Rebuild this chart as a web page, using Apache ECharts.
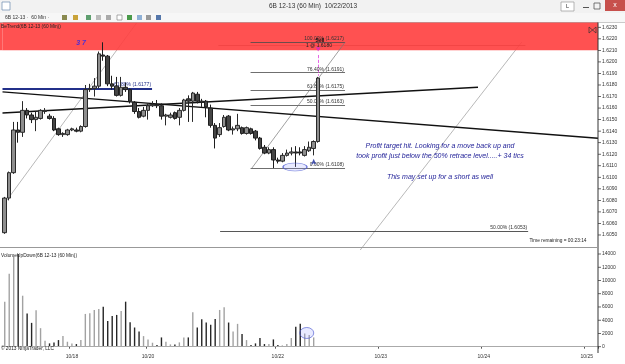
<!DOCTYPE html>
<html><head><meta charset="utf-8">
<script src="https://cdn.jsdelivr.net/npm/echarts@6/dist/echarts.min.js"></script>
<style>html,body{margin:0;padding:0;background:#fff}#c{width:625px;height:364px}</style>
</head><body><div id="c"></div>
<script>
// ---------- data ----------
const opens = [1.6052,1.6082,1.6104,1.6141,1.6139,1.6158,1.6154,1.6150,1.6151,1.6157,
1.6153,1.6151,1.6142,1.6137,1.6137,1.6141,1.6141,1.6140,1.6144,1.6176,
1.6177,1.6179,1.6206,1.6205,1.6181,1.6179,1.6171,1.6178,1.6176,1.6165,
1.6157,1.6153,1.6158,1.6162,1.6163,1.6162,1.6153,1.6152,1.6156,1.6152,
1.6158,1.6168,1.6166,1.6172,1.6166,1.6166,1.6160,1.6145,1.6137,1.6144,
1.6153,1.6141,1.6142,1.6143,1.6138,1.6142,1.6140,1.6134,1.6126,1.6121,
1.6124,1.6115,1.6114,1.6119,1.6121,1.6122,1.6122,1.6119,1.6123,1.6125,
1.6131];
const closes = [1.6082,1.6104,1.6141,1.6139,1.6158,1.6154,1.6150,1.6152,1.6158,1.6158,
1.6151,1.6141,1.6137,1.6138,1.6141,1.6142,1.6140,1.6144,1.6176,1.6177,
1.6179,1.6207,1.6205,1.6181,1.6179,1.6171,1.6178,1.6176,1.6166,1.6157,
1.6152,1.6158,1.6162,1.6163,1.6162,1.6153,1.6154,1.6154,1.6151,1.6158,
1.6167,1.6166,1.6173,1.6166,1.6165,1.6161,1.6145,1.6134,1.6143,1.6152,
1.6141,1.6142,1.6145,1.6138,1.6143,1.6138,1.6134,1.6125,1.6121,1.6124,
1.6115,1.6114,1.6119,1.6121,1.6122,1.6121,1.6121,1.6124,1.6126,1.6131,
1.6186];
const highs = [1.6083,1.6105,1.6148,1.6148,1.6166,1.6160,1.6156,1.6157,1.6159,1.6160,
1.6155,1.6153,1.6143,1.6139,1.6142,1.6143,1.6143,1.6145,1.6180,1.6181,
1.6186,1.6209,1.6217,1.6206,1.6188,1.6187,1.6187,1.6182,1.6177,1.6166,
1.6160,1.6161,1.6164,1.6166,1.6167,1.6164,1.6155,1.6156,1.6157,1.6160,
1.6168,1.6171,1.6174,1.6174,1.6168,1.6167,1.6163,1.6147,1.6147,1.6154,
1.6154,1.6144,1.6155,1.6144,1.6144,1.6143,1.6141,1.6135,1.6128,1.6126,
1.6126,1.6117,1.6121,1.6124,1.6126,1.6127,1.6126,1.6127,1.6131,1.6132,
1.6187];
const lows = [1.6051,1.6080,1.6103,1.6130,1.6135,1.6151,1.6147,1.6140,1.6150,1.6155,
1.6150,1.6140,1.6136,1.6135,1.6136,1.6140,1.6139,1.6139,1.6143,1.6174,
1.6170,1.6177,1.6201,1.6179,1.6176,1.6170,1.6170,1.6174,1.6164,1.6155,
1.6151,1.6152,1.6150,1.6161,1.6160,1.6150,1.6145,1.6151,1.6150,1.6145,
1.6157,1.6148,1.6148,1.6164,1.6161,1.6152,1.6143,1.6125,1.6135,1.6143,
1.6140,1.6137,1.6140,1.6137,1.6137,1.6137,1.6132,1.6124,1.6120,1.6120,
1.6108,1.6112,1.6113,1.6118,1.6119,1.6109,1.6119,1.6118,1.6122,1.6119,
1.6130];
const volumes = [6800,11000,13600,14000,7700,5000,3600,5500,2800,900,
500,650,1000,1600,750,500,400,1000,4950,5050,
5550,5700,6050,3900,4650,4800,5400,6800,3700,2900,
2300,1600,1100,600,250,1400,750,350,350,650,
1400,1400,5200,2900,4150,3650,3300,4200,5550,5950,
3650,2300,3450,1900,1000,250,500,1300,400,400,
1100,250,200,400,1300,3000,3450,2000,1750,1400,null];
const slotCount = 133;                       // hourly slots shown up to 10/25
const dateLabelIdx = [15, 32, 61, 84, 107, 130];
const dateLabels = ['10/18', '10/20', '10/22', '10/23', '10/24', '10/25'];
const currentVolume = 2265;

// fibonacci retracement (low 1.6108 -> high 1.6217)
const fibValues = [1.6217, 1.61907, 1.61754, 1.61625, 1.6108];
const fibLabels = ['100.00% (1.6217)', '76.40% (1.6191)', '61.80% (1.6175)', '50.00% (1.6163)', '0.00% (1.6108)'];
const fibFrom = 54.9, fibTo = 76.0;
const fibDiag = [[55.2, 1.6108], [76.0, 1.6217]];
const lowerFib = {value: 1.6053, from: 48.1, to: 116.9, label: '50.00% (1.6053)'};
const navyLevel = {value: 1.6177, from: -0.5, to: 32.9, label: '61.80% (1.6177)'};
const trendA = [[-0.5, 1.61740], [132.5, 1.61338]];
const trendB = [[-0.5, 1.61557], [105.7, 1.61780]];
const diagLeft = [[0.45, 1.6080], [29.5, 1.6234]];
const diagRight = [[79.4, 1.6037], [115.5, 1.62173]];
const fadedTop = [[47.7, 1.62147], [116.3, 1.62147]];
const orderLine = [[70, 1.6206], [70, 1.6188]];
const bandFrom = 1.6210, bandTo = 1.62346;
const priceEllipse = [64.83, 1.61089];
const volEllipse = [67.45, 2070];
const buyArrow = [69, 1.6116];
const sellMark = [70, 1.6209];

// ---------- chart ----------
const FONT = '"Liberation Sans", Arial, sans-serif';
const cats = Array.from({length: slotCount}, (_, i) => 'h' + i);
const candleData = opens.map((o, i) => [o, closes[i], lows[i], highs[i]]);
const volData = volumes.map((v, i) => ({
  value: v,
  itemStyle: {color: closes[i] >= opens[i] ? '#a2a2a2' : '#262626'}
}));
const lastPrice = closes[closes.length - 1];

function seg(a, b, style, label) {
  const item = [{coord: a}, {coord: b, lineStyle: style}];
  item[0].lineStyle = style;
  item[0].label = label ? label : {show: false};
  return item;
}
const fibStyle = {color: '#4a4a4a', width: 0.8, type: 'solid'};
const fibLbl = (t, c) => ({show: true, position: 'insideEndTop', distance: 1, formatter: t,
  fontSize: 5, color: c || '#333', fontFamily: FONT});

const drawLines = [];
fibValues.forEach((v, i) => drawLines.push(seg([fibFrom, v], [fibTo, v], fibStyle, fibLbl(fibLabels[i]))));
drawLines.push(seg(fibDiag[0], fibDiag[1], {color: '#777', width: 0.7, type: 'solid'}));
drawLines.push(seg([lowerFib.from, lowerFib.value], [lowerFib.to, lowerFib.value], {color: '#444', width: 0.9, type: 'solid'}, fibLbl(lowerFib.label)));
drawLines.push(seg([navyLevel.from, navyLevel.value], [navyLevel.to, navyLevel.value], {color: '#23308a', width: 2, type: 'solid'}, fibLbl(navyLevel.label, '#23308a')));
drawLines.push(seg(trendA[0], trendA[1], {color: '#111', width: 1.4, type: 'solid'}));
drawLines.push(seg(trendB[0], trendB[1], {color: '#111', width: 1.4, type: 'solid'}));
drawLines.push(seg(orderLine[0], orderLine[1], {color: '#e040e0', width: 0.8, type: 'dashed'}));

const fadedLines = [
  seg(diagLeft[0], diagLeft[1], {color: '#9a9a9a', width: 0.7, type: 'solid'}),
  seg(diagRight[0], diagRight[1], {color: '#9a9a9a', width: 0.7, type: 'solid'}),
  seg(fadedTop[0], fadedTop[1], {color: '#666', width: 0.8, type: 'solid'})
];

const chart = echarts.init(document.getElementById('c'), null, {renderer: 'canvas'});
const txt = (x, y, t, s) => ({type: 'text', x, y, z: 50, silent: true, style: Object.assign({text: t, fontFamily: FONT, fontSize: 5, fill: '#222'}, s || {})});

chart.setOption({
  animation: false,
  backgroundColor: '#fff',
  textStyle: {fontFamily: FONT},
  grid: [
    {left: 2.5, right: 27, top: 15.76, height: 242.3},
    {left: 2.5, right: 27, top: 254, bottom: 17.3}
  ],
  xAxis: [
    {type: 'category', gridIndex: 0, data: cats, show: false, boundaryGap: true},
    {type: 'value', gridIndex: 0, min: -0.5, max: slotCount - 0.5, show: false},
    {type: 'category', gridIndex: 1, data: cats, boundaryGap: true, offset: 5.6,
      axisLine: {show: true, lineStyle: {color: '#555', width: 1}},
      axisTick: {show: true, length: 2, interval: (i) => dateLabelIdx.includes(i), lineStyle: {color: '#555'}},
      axisLabel: {interval: (i) => dateLabelIdx.includes(i), formatter: (v, i) => {
        const k = dateLabelIdx.indexOf(i); return k >= 0 ? dateLabels[k] : ''; },
        fontSize: 5, color: '#333', margin: 2, fontFamily: FONT},
      splitLine: {show: false}},
    {type: 'value', gridIndex: 1, min: -0.5, max: slotCount - 0.5, show: false}
  ],
  yAxis: [
    {type: 'value', gridIndex: 0, position: 'right', min: 1.603, max: 1.624, interval: 0.001,
      axisLine: {show: false}, axisTick: {show: false}, splitLine: {show: false},
      axisLabel: {margin: 0, formatter: (v) => (v < 1.6045 || v > 1.6235) ? '' : '{t|}{v|' + v.toFixed(4) + '}',
        rich: {t: {width: 3, height: 0.8, backgroundColor: '#444'},
               v: {fontSize: 5, color: '#333', padding: [0, 0, 0, 1], fontFamily: FONT}}}},
    {type: 'value', gridIndex: 1, position: 'right', min: 0, max: 14000, interval: 2000,
      axisLine: {show: false}, axisTick: {show: false}, splitLine: {show: false},
      axisLabel: {margin: 0, formatter: (v) => '{t|}{v|' + v + '}',
        rich: {t: {width: 3, height: 0.8, backgroundColor: '#444'},
               v: {fontSize: 5, color: '#333', padding: [0, 0, 0, 1], fontFamily: FONT}}}}
  ],
  series: [
    {type: 'line', name: 'faded', xAxisIndex: 1, yAxisIndex: 0, data: [], z: 0, silent: true,
      markLine: {silent: true, symbol: ['none', 'none'], z: 0, animation: false, data: fadedLines}},
    {type: 'line', name: 'band', xAxisIndex: 1, yAxisIndex: 0, data: [], z: 1, silent: true,
      markArea: {silent: true, z: 1, itemStyle: {color: 'rgba(255,62,62,0.9)'},
        data: [[{yAxis: bandFrom}, {yAxis: bandTo}]]}},
    {type: 'line', name: 'drawings', xAxisIndex: 1, yAxisIndex: 0, data: [], z: 4, silent: true,
      markLine: {silent: true, symbol: ['none', 'none'], z: 4, animation: false, data: drawLines}},
    {type: 'candlestick', name: '6B 12-13', xAxisIndex: 0, yAxisIndex: 0, data: candleData, z: 6,
      barWidth: 4, barMinWidth: 4, barMaxWidth: 4,
      itemStyle: {color: '#8e8e8e', color0: '#454545', borderColor: '#2a2a2a', borderColor0: '#1e1e1e', borderWidth: 1},
      markLine: {silent: true, symbol: ['none', 'none'], z: 7, animation: false,
        data: [{yAxis: lastPrice}], lineStyle: {opacity: 0},
        label: {show: true, position: 'end', distance: 3, formatter: (p) => p.value.toFixed(4),
          backgroundColor: '#111', color: '#fff', fontSize: 5, padding: [1, 2], fontFamily: FONT}}},
    {type: 'scatter', name: 'ellipse', xAxisIndex: 1, yAxisIndex: 0, z: 7, silent: true,
      data: [priceEllipse], symbol: 'circle', symbolSize: [24, 8],
      itemStyle: {color: 'rgba(140,150,255,0.25)', borderColor: '#4b57d0', borderWidth: 0.8}},
    {type: 'scatter', name: 'entry', xAxisIndex: 1, yAxisIndex: 0, z: 7, silent: true,
      data: [buyArrow], symbol: 'arrow', symbolSize: [4, 6], itemStyle: {color: '#1a2a9c'}},
    {type: 'scatter', name: 'sell', xAxisIndex: 1, yAxisIndex: 0, z: 7, silent: true,
      data: [sellMark], symbol: 'arrow', symbolRotate: 180, symbolSize: [4, 5], itemStyle: {color: '#d424d4'}},
    {type: 'bar', name: 'Volume', xAxisIndex: 2, yAxisIndex: 1, data: volData, barWidth: 1.4, z: 3,
      markLine: {silent: true, symbol: ['none', 'none'], animation: false,
        data: [{yAxis: 0, lineStyle: {color: '#aaa', width: 1, type: 'solid'}, label: {show: false}},
               {yAxis: currentVolume, lineStyle: {opacity: 0},
                label: {show: true, position: 'end', distance: 3, formatter: (p) => String(p.value),
                  backgroundColor: '#e6e6e6', borderColor: '#333', borderWidth: 0.6, color: '#111',
                  fontSize: 5, padding: [1, 1], fontFamily: FONT}}]}},
    {type: 'scatter', name: 'volEllipse', xAxisIndex: 3, yAxisIndex: 1, z: 7, silent: true,
      data: [volEllipse], symbol: 'circle', symbolSize: [14, 11],
      itemStyle: {color: 'rgba(140,150,255,0.25)', borderColor: '#4b57d0', borderWidth: 0.8}}
  ],
  graphic: [
    {type: 'rect', shape: {x: 0, y: 22.5, width: 2.5, height: 27.7}, style: {fill: 'rgba(255,62,62,0.9)'}, silent: true, z: 1},
    {type: 'rect', shape: {x: 0, y: 0, width: 625, height: 13}, style: {fill: '#f2f2f2'}, silent: true},
    {type: 'rect', shape: {x: 2, y: 2, width: 8, height: 8}, z: 50, style: {fill: '#fff', stroke: '#6a8bb0', lineWidth: 0.7}, silent: true},
    txt(313, 6.5, '6B 12-13 (60 Min)  10/22/2013', {fontSize: 6.5, fill: '#333', align: 'center', verticalAlign: 'middle'}),
    {type: 'rect', shape: {x: 561, y: 2, width: 13, height: 9}, z: 50, style: {fill: '#fff', stroke: '#999', lineWidth: 0.7}, silent: true},
    txt(567.5, 6.5, 'L', {fontSize: 5.5, fill: '#333', align: 'center', verticalAlign: 'middle'}),
    {type: 'line', shape: {x1: 583, y1: 7.5, x2: 589, y2: 7.5}, z: 50, style: {stroke: '#555', lineWidth: 1}, silent: true},
    {type: 'rect', shape: {x: 594, y: 3, width: 6, height: 6}, z: 50, style: {fill: 'none', stroke: '#555', lineWidth: 0.8}, silent: true},
    {type: 'rect', shape: {x: 605, y: 0, width: 20, height: 11}, z: 50, style: {fill: '#c7504c'}, silent: true},
    txt(615, 5.5, 'x', {fontSize: 7, fill: '#fff', align: 'center', verticalAlign: 'middle'}),
    {type: 'rect', shape: {x: 0, y: 13, width: 625, height: 9.5}, style: {fill: '#f7f7f7'}, silent: true},
    txt(5, 17.8, '6B 12-13 ·  60 Min ·', {fontSize: 5, fill: '#333', verticalAlign: 'middle'}),
    {type: 'rect', shape: {x: 62, y: 15, width: 5, height: 5}, z: 50, style: {fill: '#8a8a50'}, silent: true},
    {type: 'rect', shape: {x: 73, y: 15, width: 5, height: 5}, z: 50, style: {fill: '#c9a33a'}, silent: true},
    {type: 'rect', shape: {x: 86, y: 15, width: 5, height: 5}, z: 50, style: {fill: '#5f9f6f'}, silent: true},
    {type: 'rect', shape: {x: 96, y: 15, width: 5, height: 5}, z: 50, style: {fill: '#bbb'}, silent: true},
    {type: 'rect', shape: {x: 106, y: 15, width: 5, height: 5}, z: 50, style: {fill: '#aaa'}, silent: true},
    {type: 'rect', shape: {x: 117, y: 15, width: 5, height: 5}, z: 50, style: {fill: '#fff', stroke: '#777', lineWidth: 0.6}, silent: true},
    {type: 'rect', shape: {x: 127, y: 15, width: 5, height: 5}, z: 50, style: {fill: '#4a9a4a'}, silent: true},
    {type: 'rect', shape: {x: 137, y: 15, width: 5, height: 5}, z: 50, style: {fill: '#8fb1d6'}, silent: true},
    {type: 'rect', shape: {x: 146, y: 15, width: 5, height: 5}, z: 50, style: {fill: '#999'}, silent: true},
    {type: 'rect', shape: {x: 156, y: 15, width: 5, height: 5}, z: 50, style: {fill: '#5577aa'}, silent: true},
    {type: 'line', shape: {x1: 0, y1: 22.5, x2: 625, y2: 22.5}, z: 50, style: {stroke: '#aaa', lineWidth: 0.6}, silent: true},
    {type: 'line', shape: {x1: 598, y1: 22.5, x2: 598, y2: 353}, style: {stroke: '#333', lineWidth: 1}, silent: true, z: 50},
    {type: 'line', shape: {x1: 0, y1: 247.5, x2: 598, y2: 247.5}, z: 50, style: {stroke: '#999', lineWidth: 1}, silent: true},
    {type: 'polygon', shape: {points: [[589, 27], [596, 33], [596, 27], [589, 33]]}, style: {fill: 'none', stroke: '#333', lineWidth: 0.7}, silent: true, z: 50},
    txt(1, 27, 'BeTrend(6B 12-13 (60 Min))', {fontSize: 4.8, fill: '#222', verticalAlign: 'middle'}),
    txt(1, 256, 'VolumeUpDown(6B 12-13 (60 Min))', {fontSize: 4.8, fill: '#222', verticalAlign: 'middle'}),
    txt(1, 348.5, '© 2013 NinjaTrader, LLC', {fontSize: 4.8, fill: '#222', verticalAlign: 'middle'}),
    txt(81, 43, '3 7', {fontSize: 7, fill: '#4b2fd6', fontStyle: 'italic', fontWeight: 'bold', align: 'center', verticalAlign: 'middle'}),
    txt(320, 40.5, 'Sell', {fontSize: 5, fill: '#111', fontWeight: 'bold', align: 'center', verticalAlign: 'middle'}),
    txt(319, 45.5, '1 @ 1.6180', {fontSize: 5, fill: '#222', align: 'center', verticalAlign: 'middle'}),
    txt(440, 146.5, 'Profit target hit. Looking for a move back up and', {fontSize: 7, fill: '#1c1c96', fontStyle: 'italic', align: 'center', verticalAlign: 'middle'}),
    txt(440, 156.5, 'took profit just below the 50% retrace level.....+ 34 tics', {fontSize: 7, fill: '#1c1c96', fontStyle: 'italic', align: 'center', verticalAlign: 'middle'}),
    txt(440, 177, 'This may set up for a short as well', {fontSize: 7, fill: '#1c1c96', fontStyle: 'italic', align: 'center', verticalAlign: 'middle'}),
    txt(558, 241, 'Time remaining = 00:23:14', {fontSize: 4.8, fill: '#222', align: 'center', verticalAlign: 'middle'})
  ]
});
</script>
</body></html>
